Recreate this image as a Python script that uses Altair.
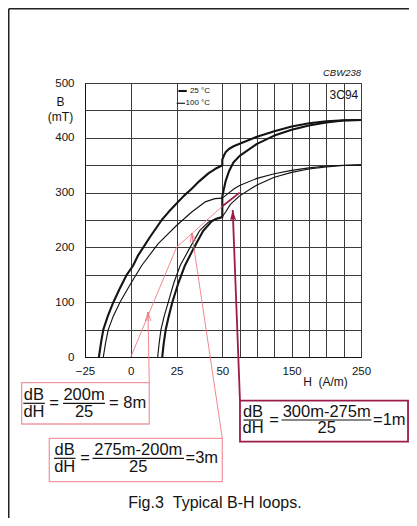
import altair as alt
import pandas as pd

FONT = "Liberation Sans"
INK = "#141414"
GRID = "#3c3c3c"
PINK = "#f07a84"
PINK_BOX = "#f29aa2"
MAROON = "#9c1c48"

# ---------- B-H loop branches: H (A/m), B (mT) ----------
h25_down = [250, 225, 200, 175, 150, 125, 100, 75, 67, 60, 55, 52.5, 50, 50, 46, 42.4, 37.5, 33.3, 29, 25,
            20.5, 16.9, 10.5, 4.1, 1.3, -2.2, -6, -9.5, -12.5, -15, -16.3, -17.4]
b25_down = [432.5, 432, 430, 426.5, 420.5, 412, 402, 389, 385, 380, 374, 368, 360, 350, 343, 335, 321, 307, 294, 280,
            264, 250, 219, 186, 167, 150, 125, 100, 75, 50, 25, 0]

h25_up = [17.2, 18, 19.1, 20.8, 22.7, 26, 29.6, 34.6, 39.5, 44.3, 47.5, 50, 50, 52, 55, 60, 66, 75, 100, 125,
          150, 175, 200, 225, 250]
b25_up = [0, 25, 50, 75, 100, 135, 167, 200, 230, 248, 253, 255, 293, 305, 322, 340, 355, 367, 389, 404,
          414.5, 422.5, 428, 431.5, 432.5]

h100_down = [250, 225, 200, 175, 150, 125, 100, 75, 67, 60, 55, 50, 46, 40.6, 33.3, 25, 15, 6, 0, -5.9,
             -9.5, -12.3, -13.8, -15]
b100_down = [350.5, 350, 348.5, 345, 340.5, 334.5, 326, 313, 307, 300, 295, 290, 289, 283, 264.6, 240, 207, 167, 134, 100,
             75, 50, 25, 0]

h100_up = [14.7, 15.5, 16.5, 18.3, 20.5, 23.5, 27, 32.4, 37.5, 42.4, 46.5, 50, 55, 62, 75, 100, 125, 150, 175, 200,
           225, 250]
b100_up = [0, 25, 50, 75, 100, 135, 167, 200, 230, 246, 252.5, 256, 265, 279, 294, 314, 328, 337, 343, 347,
           349.5, 350.5]

# ---------- axes ----------
x_breaks = [-25, 50, 250]
x_ticks = [-25, 0, 25, 50, 75, 100, 125, 150, 175, 200, 225, 250]
x_labeled = [0, 25, 50, 150, 250]
y_ticks = [0, 50, 100, 150, 200, 250, 300, 350, 400, 450, 500]

# ---------- slope annotations (chart units) ----------
sec1_h = [0, 25, 50]
sec1_b = [0, 200, 275]
sec2_h = [50, 75]
sec2_b = [275, 300]

box_h = [-59.6, -44.5, 75.5]
box_h2 = [10.1, 50, 317.8]
box_b = [-46.9, -148.4, -79.7]
box_b2 = [-122.3, -227.6, -154.6]

arrow_h = [10.1, 50, 75.5]
arrow_b = [-46.9, -148.4, -79.7]
arrow_tip_h = [9.4, 33.3, 65]
arrow_tip_b = [82.1, 226.3, 268.2]
arrow_angle = [359.2, 351.5, 357.8]

frac_lhs_h = [-52.9, -36.1, 94.3]
frac_eq_h = [-41.9, -25, 124.5]
frac_rhs_h = [-25.5, 4.1, 200.5]
frac_res_h = [-11.9, 29.9, 267.3]
frac_top_b = [-69.3, -169.7, -99.8]
frac_mid_b = [-84.5, -184.9, -115]
frac_bot_b = [-99.8, -200.2, -130.1]
frac_bar1 = [(-58.7, -46.9), (-41.9, -30.2), (80.6, 108.7)]
frac_bar2 = [(-37, -14.1), (-20.9, 29.1), (135.4, 265.1)]
frac_num = ["200m", "275m-200m", "300m-275m"]
frac_den = ["25", "25", "25"]
frac_res = ["= 8m", "=3m", "=1m"]

legend_text = ["25 \u00b0C", "100 \u00b0C"]
legend_text_h = 43.3
legend_b = [485.4, 463]
legend_line_h = [(26, 30.6), (25.1, 29.6)]

frame_h = [-66.65, 319.2]
frame_b = [-293.8, 635.5]

caption = "Fig.3\u00a0\u00a0Typical B-H loops."
caption_pos = (46, -267)
code_pos = (250, 517.7)
grade_pos = (246.1, 478.1)


def branch(h, b, temp, name):
    return pd.DataFrame({"H": h, "B": b, "temp": temp, "branch": name, "idx": list(range(len(h)))})


loops = pd.concat([
    branch(h25_down, b25_down, "25", "25_down"),
    branch(h25_up, b25_up, "25", "25_up"),
    branch(h100_down, b100_down, "100", "100_down"),
    branch(h100_up, b100_up, "100", "100_up"),
], ignore_index=True)

xscale = alt.Scale(domain=x_breaks, range=[0, 137.3, 276], nice=False, zero=False)
yscale = alt.Scale(domain=[0, 500], nice=False, zero=False)

label_list = ",".join(str(v) for v in x_labeled)
x_axis = alt.Axis(
    values=x_ticks, grid=True, gridColor=GRID, gridWidth=1, domainColor=INK, domainWidth=1,
    ticks=False, tickSize=0, labelPadding=8, labelFont=FONT, labelFontSize=11.5, labelColor=INK,
    labelFlush=False, labelOverlap=False,
    labelExpr=f"datum.value == -25 ? '\u221225' : (indexof([{label_list}], datum.value) >= 0 ? datum.label : '')",
    title="H\u00a0\u00a0(A/m)", titleX=240, titleY=24.7, titleBaseline="middle", titleAlign="center",
    titleFont=FONT, titleFontSize=12, titleFontWeight="normal", titleColor=INK,
)
y_axis = alt.Axis(
    values=y_ticks, grid=True, gridColor=GRID, gridWidth=1, domainColor=INK, domainWidth=1,
    ticks=False, tickSize=0, labelPadding=11, labelFont=FONT, labelFontSize=11.5, labelColor=INK,
    labelOverlap=False, labelExpr="datum.value % 100 == 0 ? datum.label : ''",
    title=["B", "(mT)"], titleAngle=0, titleX=-25, titleY=13.5, titleAlign="center", titleBaseline="top",
    titleLineHeight=15, titleFont=FONT, titleFontSize=12, titleFontWeight="normal", titleColor=INK,
)


def X(f):
    return alt.X(f, type="quantitative", scale=xscale, axis=x_axis)


def Y(f):
    return alt.Y(f, type="quantitative", scale=yscale, axis=y_axis)


curves = alt.Chart(loops).mark_line(color=INK, strokeCap="butt", strokeJoin="round").encode(
    x=X("H"),
    y=Y("B"),
    detail="branch:N",
    order="idx:Q",
    strokeWidth=alt.StrokeWidth("temp:N", scale=alt.Scale(domain=["25", "100"], range=[2.1, 1.15]), legend=None),
)

sec1 = alt.Chart(pd.DataFrame({"H": sec1_h, "B": sec1_b})).mark_line(color=PINK, strokeWidth=0.9).encode(
    x=X("H"), y=Y("B"))
sec2 = alt.Chart(pd.DataFrame({"H": sec2_h, "B": sec2_b})).mark_line(color=MAROON, strokeWidth=1.8).encode(
    x=X("H"), y=Y("B"))

boxes_df = pd.DataFrame({"H": box_h, "H2": box_h2, "B": box_b, "B2": box_b2})
boxes_p = alt.Chart(boxes_df.iloc[:2]).mark_rect(fillOpacity=0, stroke=PINK_BOX, strokeWidth=1.3).encode(
    x=X("H"), x2="H2", y=Y("B"), y2="B2")
boxes_m = alt.Chart(boxes_df.iloc[2:]).mark_rect(fillOpacity=0, stroke=MAROON, strokeWidth=1.8).encode(
    x=X("H"), x2="H2", y=Y("B"), y2="B2")

arrows_df = pd.DataFrame({"H": arrow_h, "B": arrow_b, "H2": arrow_tip_h, "B2": arrow_tip_b, "ang": arrow_angle})
arrows_p = alt.Chart(arrows_df.iloc[:2]).mark_rule(color=PINK, strokeWidth=0.9).encode(
    x=X("H"), y=Y("B"), x2="H2", y2="B2")
arrows_m = alt.Chart(arrows_df.iloc[2:]).mark_rule(color=MAROON, strokeWidth=1.8).encode(
    x=X("H"), y=Y("B"), x2="H2", y2="B2")
heads_p = alt.Chart(arrows_df.iloc[:2]).mark_point(
    shape="M-0.3,1L0,0L0.3,1M0,0L0,1", filled=False, stroke=PINK, strokeWidth=0.9, size=324, opacity=1
).encode(x=X("H2"), y=Y("B2"), angle=alt.Angle("ang:Q", scale=None))
heads_m = alt.Chart(arrows_df.iloc[2:]).mark_point(
    shape="M0,0L-0.3,1L0,0.72L0.3,1Z", filled=True, fill=MAROON, size=484, opacity=1
).encode(x=X("H2"), y=Y("B2"), angle=alt.Angle("ang:Q", scale=None))

center_rows = []
left_rows = []
bar_rows = []
for i in range(3):
    center_rows += [
        {"H": frac_lhs_h[i], "B": frac_top_b[i], "t": "dB"},
        {"H": frac_lhs_h[i], "B": frac_bot_b[i], "t": "dH"},
        {"H": frac_eq_h[i], "B": frac_mid_b[i], "t": "="},
        {"H": frac_rhs_h[i], "B": frac_top_b[i], "t": frac_num[i]},
        {"H": frac_rhs_h[i], "B": frac_bot_b[i], "t": frac_den[i]},
    ]
    left_rows.append({"H": frac_res_h[i], "B": frac_mid_b[i], "t": frac_res[i]})
    bar_rows.append({"H": frac_bar1[i][0], "H2": frac_bar1[i][1], "B": frac_mid_b[i]})
    bar_rows.append({"H": frac_bar2[i][0], "H2": frac_bar2[i][1], "B": frac_mid_b[i]})

frac_c = alt.Chart(pd.DataFrame(center_rows)).mark_text(
    font=FONT, fontSize=16.5, color=INK, align="center", baseline="middle").encode(
    x=X("H"), y=Y("B"), text="t:N")
frac_l = alt.Chart(pd.DataFrame(left_rows)).mark_text(
    font=FONT, fontSize=16.5, color=INK, align="left", baseline="middle").encode(
    x=X("H"), y=Y("B"), text="t:N")
frac_bars = alt.Chart(pd.DataFrame(bar_rows)).mark_rule(color=INK, strokeWidth=1.2).encode(
    x=X("H"), x2="H2", y=Y("B"))

leg_txt = alt.Chart(pd.DataFrame({"H": [legend_text_h] * 2, "B": legend_b, "t": legend_text})).mark_text(
    font=FONT, fontSize=8, color=INK, align="right", baseline="middle").encode(
    x=X("H"), y=Y("B"), text="t:N")
leg_df = pd.DataFrame({"H": [p[0] for p in legend_line_h], "H2": [p[1] for p in legend_line_h],
                       "B": legend_b, "temp": ["25", "100"]})
leg_lines = alt.Chart(leg_df).mark_rule(color=INK, strokeCap="butt").encode(
    x=X("H"), x2="H2", y=Y("B"),
    strokeWidth=alt.StrokeWidth("temp:N", scale=alt.Scale(domain=["25", "100"], range=[2.4, 1.3]), legend=None))

code_txt = alt.Chart(pd.DataFrame({"H": [code_pos[0]], "B": [code_pos[1]], "t": ["CBW238"]})).mark_text(
    font=FONT, fontSize=9.5, fontStyle="italic", color=INK, align="right", baseline="middle").encode(
    x=X("H"), y=Y("B"), text="t:N")
grade_txt = alt.Chart(pd.DataFrame({"H": [grade_pos[0]], "B": [grade_pos[1]], "t": ["3C94"]})).mark_text(
    font=FONT, fontSize=12, color=INK, align="right", baseline="middle").encode(
    x=X("H"), y=Y("B"), text="t:N")
cap_txt = alt.Chart(pd.DataFrame({"H": [caption_pos[0]], "B": [caption_pos[1]], "t": [caption]})).mark_text(
    font=FONT, fontSize=16, color=INK, align="center", baseline="middle").encode(
    x=X("H"), y=Y("B"), text="t:N")

frame_df = pd.DataFrame({"H": [frame_h[0], frame_h[0]], "H2": [frame_h[1], frame_h[0]],
                         "B": [frame_b[1], frame_b[1]], "B2": [frame_b[1], frame_b[0]]})
frame = alt.Chart(frame_df).mark_rule(color="#222", strokeWidth=1.5).encode(
    x=X("H"), x2="H2", y=Y("B"), y2="B2")

chart = alt.layer(
    curves, sec1, sec2, boxes_p, boxes_m, arrows_p, arrows_m, heads_p, heads_m,
    frac_c, frac_l, frac_bars, leg_lines, leg_txt, code_txt, grade_txt, cap_txt, frame,
).properties(
    width=276, height=274,
    autosize=alt.AutoSizeParams(type="none"),
    padding={"left": 77, "top": 75, "right": 48, "bottom": 161},
    background="white",
).configure_view(stroke=INK, strokeWidth=1)

chart.save("out.html", embed_options={"renderer": "svg", "actions": False})
